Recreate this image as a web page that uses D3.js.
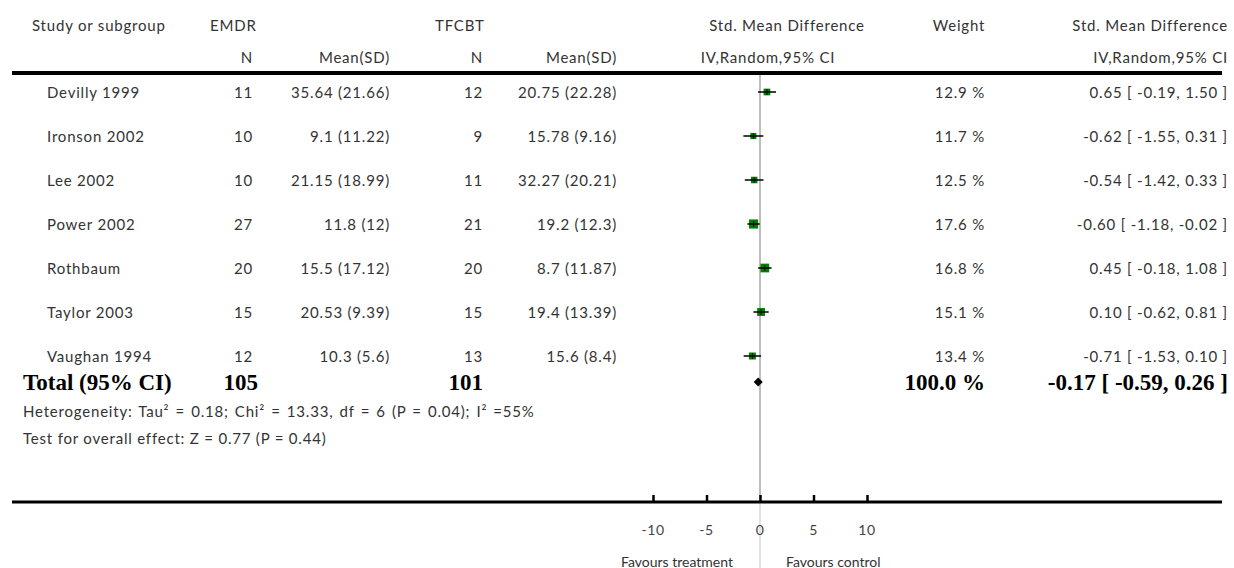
<!DOCTYPE html>
<html>
<head>
<meta charset="utf-8">
<script src="https://cdn.jsdelivr.net/npm/d3@7"></script>
<style>
  html, body { margin: 0; padding: 0; background: #fff; }
  svg { display: block; }
  .t { font-family: Lato, "Open Sans", sans-serif; font-size: 15px; letter-spacing: 0.8px; fill: #333; }
  .b { font-family: "Liberation Serif", "DejaVu Serif", serif; font-weight: bold; font-size: 23px; fill: #000; }
  .s { font-family: Lato, "Open Sans", sans-serif; font-size: 14px; fill: #333; }
</style>
</head>
<body>
<svg id="chart" width="1234" height="568"></svg>
<script>
// ---- data ----
const studies = ["Devilly 1999","Ironson 2002","Lee 2002","Power 2002","Rothbaum","Taylor 2003","Vaughan 1994"];
const emdrN = [11,10,10,27,20,15,12];
const emdrMeanSD = ["35.64 (21.66)","9.1 (11.22)","21.15 (18.99)","11.8 (12)","15.5 (17.12)","20.53 (9.39)","10.3 (5.6)"];
const tfcbtN = [12,9,11,21,20,15,13];
const tfcbtMeanSD = ["20.75 (22.28)","15.78 (9.16)","32.27 (20.21)","19.2 (12.3)","8.7 (11.87)","19.4 (13.39)","15.6 (8.4)"];
const weights = [12.9,11.7,12.5,17.6,16.8,15.1,13.4];
const smd = [0.65,-0.62,-0.54,-0.60,0.45,0.10,-0.71];
const ciLow = [-0.19,-1.55,-1.42,-1.18,-0.18,-0.62,-1.53];
const ciHigh = [1.50,0.31,0.33,-0.02,1.08,0.81,0.10];
const total = {label:"Total (95% CI)", n1:105, n2:101, weight:100.0, est:-0.17, lo:-0.59, hi:0.26};
const heterogeneity = "Heterogeneity: Tau² = 0.18; Chi² = 13.33, df = 6 (P = 0.04); I² =55%";
const overall = "Test for overall effect: Z = 0.77 (P = 0.44)";
const tickValues = [-10,-5,0,5,10];
const favLeft = "Favours treatment", favRight = "Favours control";

const svg = d3.select("#chart");
const x = d3.scaleLinear().domain([-10,10]).range([653,867]);
const rowY = d3.scaleLinear().domain([0, studies.length-1]).range([92,356]);
const side = d3.scaleLinear().domain([0,20]).range([0,10.4]);
const f2 = v => v.toFixed(2);

function txt(cls, xx, yy, s, anchor) {
  return svg.append("text").attr("class", cls).attr("x", xx).attr("y", yy)
    .attr("dominant-baseline","central").attr("text-anchor", anchor || "start").text(s);
}

// header
txt("t", 32, 25, "Study or subgroup");
txt("t", 210, 25, "EMDR");
txt("t", 253, 57, "N", "end");
txt("t", 390, 57, "Mean(SD)", "end");
txt("t", 435, 25, "TFCBT");
txt("t", 483, 57, "N", "end");
txt("t", 617, 57, "Mean(SD)", "end");
txt("t", 787, 25, "Std. Mean Difference", "middle");
txt("t", 768, 57, "IV,Random,95% CI", "middle");
txt("t", 959, 25, "Weight", "middle");
txt("t", 1228, 25, "Std. Mean Difference", "end");
txt("t", 1228, 57, "IV,Random,95% CI", "end");

// reference line
const x0 = x(0);
svg.append("line").attr("x1", x0).attr("x2", x0).attr("y1", 75).attr("y2", 500)
  .attr("stroke", "#bdbdbd").attr("stroke-width", 2);
svg.append("line").attr("x1", x0).attr("x2", x0).attr("y1", 503).attr("y2", 568)
  .attr("stroke", "#d9d9d9").attr("stroke-width", 1.5);

// header rule
svg.append("line").attr("x1", 12).attr("x2", 1222).attr("y1", 73).attr("y2", 73)
  .attr("stroke", "#000").attr("stroke-width", 4);

// rows
studies.forEach((s, i) => {
  const y = rowY(i);
  txt("t", 47, y, s);
  txt("t", 253, y, emdrN[i], "end");
  txt("t", 390, y, emdrMeanSD[i], "end");
  txt("t", 483, y, tfcbtN[i], "end");
  txt("t", 617, y, tfcbtMeanSD[i], "end");
  txt("t", 985, y, weights[i].toFixed(1) + " %", "end");
  txt("t", 1228, y, f2(smd[i]) + " [ " + f2(ciLow[i]) + ", " + f2(ciHigh[i]) + " ]", "end");
  const sd = side(weights[i]);
  svg.append("rect").attr("x", x(smd[i]) - sd/2).attr("y", y - sd/2)
    .attr("width", sd).attr("height", sd).attr("fill", "#008000");
  svg.append("line").attr("x1", x(ciLow[i])).attr("x2", x(ciHigh[i])).attr("y1", y).attr("y2", y)
    .attr("stroke", "#000").attr("stroke-width", 1.5);
  svg.append("line").attr("x1", x(smd[i])).attr("x2", x(smd[i])).attr("y1", y - 3).attr("y2", y + 3)
    .attr("stroke", "#000").attr("stroke-width", 1);
});

// total
const ty = 382;
txt("b", 23, ty, total.label);
txt("b", 258, ty, total.n1, "end");
txt("b", 483, ty, total.n2, "end");
txt("b", 985, ty, total.weight.toFixed(1) + " %", "end");
txt("b", 1228, ty, f2(total.est) + " [ " + f2(total.lo) + ", " + f2(total.hi) + " ]", "end");
svg.append("path")
  .attr("d", `M${x(total.lo)},${ty} L${x(total.est)},${ty-4.5} L${x(total.hi)},${ty} L${x(total.est)},${ty+4.5} Z`)
  .attr("fill", "#000");

txt("t", 23, 411, heterogeneity).style("word-spacing", "1.5px");
txt("t", 23, 438, overall);

// axis
svg.append("line").attr("x1", 12).attr("x2", 1222).attr("y1", 502).attr("y2", 502)
  .attr("stroke", "#000").attr("stroke-width", 3);
const axisG = svg.append("g").attr("transform", "translate(0,502)");
axisG.call(d3.axisTop(x).tickValues(tickValues).tickSize(7).tickFormat(""));
axisG.select(".domain").remove();
axisG.selectAll(".tick line").attr("stroke", "#000").attr("stroke-width", 2.5);
tickValues.forEach(v => {
  svg.append("text").attr("class", "s").attr("x", x(v)).attr("y", 529)
    .attr("dominant-baseline","central").attr("text-anchor","middle").style("fill","#444")
    .style("letter-spacing","0.6px").text(v);
});
txt("s", 733, 561, favLeft, "end");
txt("s", 786, 561, favRight);
</script>
</body>
</html>
